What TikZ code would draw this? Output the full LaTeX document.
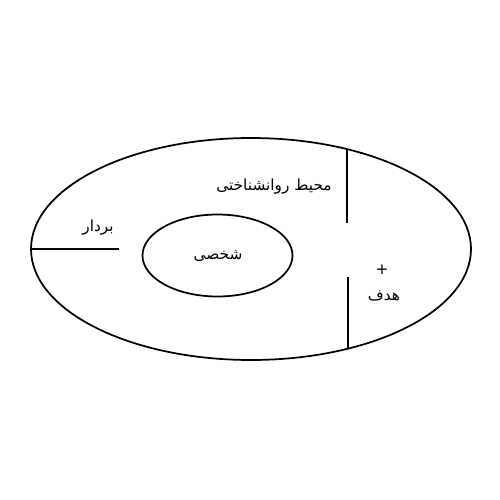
\documentclass[tikz,border=0pt]{standalone}
\usepackage{fontspec}
\usetikzlibrary{shapes.geometric}
\newfontfamily\arabicfont[Script=Arabic]{DejaVu Sans}
\TeXXeTstate=1
\begin{document}
\begin{tikzpicture}[x=0.75pt,y=-0.75pt,
  shape line/.style={line width=1.3pt},
  oval/.style={draw, ellipse, shape line, inner sep=0pt, outer sep=0pt},
  lbl/.style={font=\arabicfont\fontsize{11.5}{13}\selectfont, inner sep=0pt}]
\useasboundingbox (0,0) rectangle (500,500);
\node[oval, minimum width=440*0.75pt, minimum height=222*0.75pt] (outer) at (251,249) {};
\node[oval, minimum width=150*0.75pt, minimum height=82*0.75pt] (inner) at (217.5,255.5) {};
\coordinate (hend) at (119,249);
\coordinate (vatop) at (347,149);
\coordinate (vabot) at (347,223);
\coordinate (vbtop) at (348,277);
\coordinate (vbbot) at (348,349);
\draw[shape line] (outer.west) -- (hend);
\draw[shape line] (vatop) -- (vabot);
\draw[shape line] (vbtop) -- (vbbot);
\node[lbl] (env) at (274,187) {\beginR محیط روانشناختی\endR};
\node[lbl] (vec) at (98,228) {\beginR بردار\endR};
\node[lbl] (pers) at (218,256) {\beginR شخصی\endR};
\node[lbl] (plus) at (382,270) {+};
\node[lbl] (goal) at (384,296) {\beginR هدف\endR};
\end{tikzpicture}
\end{document}
